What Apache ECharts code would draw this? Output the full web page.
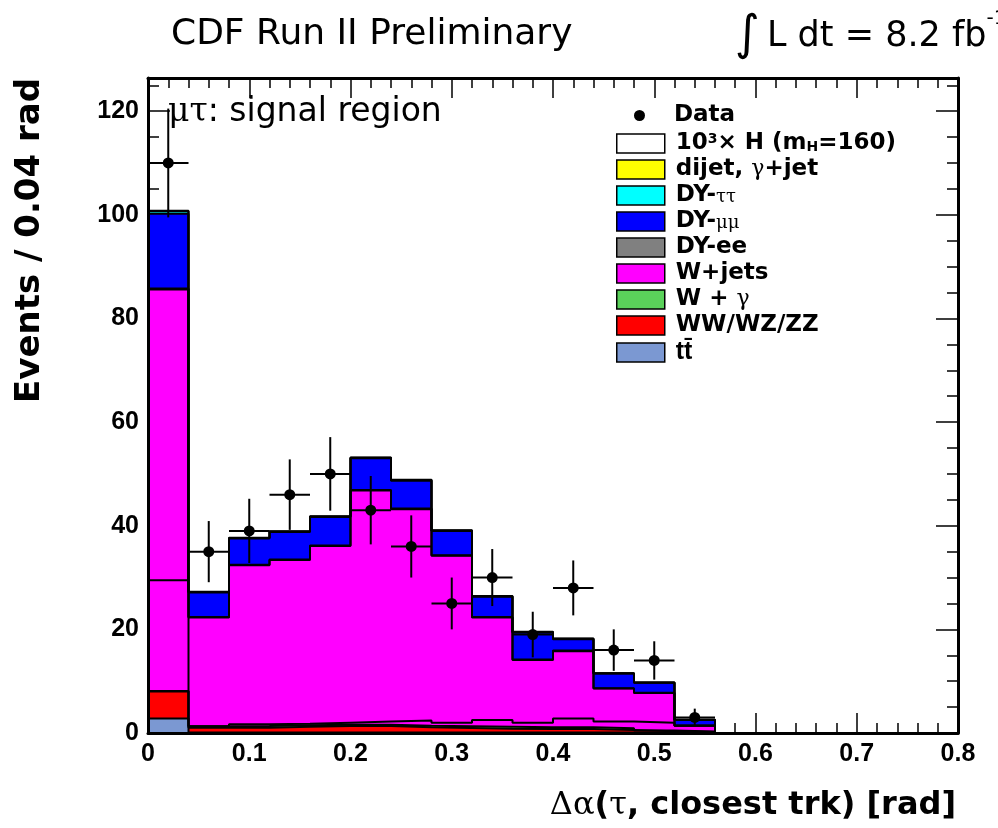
<!DOCTYPE html>
<html>
<head>
<meta charset="utf-8">
<script src="https://cdn.jsdelivr.net/npm/echarts@6/dist/echarts.min.js"></script>
<style>
  html, body { margin: 0; padding: 0; background: #fff; }
  #chart { width: 998px; height: 828px; }
</style>
</head>
<body>
<div id="chart"></div>
<script>
// Bin edges of the Δα(τ, closest trk) histogram, 0.04 rad per bin
const binEdges = [0, 0.04, 0.08, 0.12, 0.16, 0.20, 0.24, 0.28, 0.32, 0.36, 0.40, 0.44, 0.48, 0.52, 0.56];
const binWidth = 0.04;

// Observed events and their uncertainties
const dataCounts = [110, 35, 39, 46, 50, 43, 36, 25, 30, 19, 28, 16, 14, 3];
const dataErrors = [10.5, 5.9, 6.2, 6.8, 7.1, 6.6, 6.0, 5.0, 5.5, 4.4, 5.3, 4.0, 3.7, 1.7];

// Background expectations, listed from the bottom of the stack upwards
const ttbar    = [2.8, 0.1, 0.1, 0.1, 0.1, 0.1, 0.1, 0.1, 0.1, 0.1, 0.1, 0.1, 0.1, 0.05];
const diboson  = [5.2, 0.9, 0.9, 1.1, 1.25, 1.25, 1.0, 0.85, 0.7, 0.65, 0.65, 0.5, 0.25, 0.15];
const wGamma   = [0.1, 0.3, 0.35, 0.3, 0.25, 0.25, 0.3, 0.35, 0.4, 0.35, 0.35, 0.3, 0.15, 0.1];
const wJets    = [77.5, 21.0, 31.0, 31.9, 34.5, 45.2, 41.8, 32.9, 21.1, 13.0, 14.7, 7.7, 7.2, 1.1];
const dyEE     = [0.2, 0.1, 0.1, 0.1, 0.1, 0.1, 0.1, 0.1, 0.1, 0.1, 0.1, 0.05, 0.05, 0.05];
const dyMuMu   = [14.4, 4.7, 5.1, 5.3, 5.5, 6.1, 5.4, 4.7, 3.9, 5.2, 2.2, 2.85, 1.95, 1.05];
const dyTauTau = [0.5, 0.1, 0.1, 0.1, 0.1, 0.1, 0.1, 0.1, 0.1, 0.1, 0.1, 0.05, 0.05, 0.05];
const dijet    = [0.1, 0.05, 0.05, 0.05, 0.05, 0.05, 0.05, 0.05, 0.05, 0.05, 0.05, 0.0, 0.0, 0.0];

// Higgs signal (m_H = 160), scaled by 10^3
const higgsX1000 = [29.5, 1.3, 1.7, 1.8, 2.0, 2.2, 2.4, 2.0, 2.5, 2.0, 2.8, 2.2, 2.0, 1.4];

// Axis ranges and tick spacing
const xRange = [0, 0.8];
const xMajorStep = 0.1;
const yRange = [0, 126.4];
const yMajorStep = 20;
const yMinorStep = 5;

// Stack components, bottom to top
const stackNames = ['ttbar', 'diboson', 'wgamma', 'wjets', 'dyee', 'dymumu', 'dytautau', 'dijet'];
const stackValues = [ttbar, diboson, wGamma, wJets, dyEE, dyMuMu, dyTauTau, dijet];
const stackColors = {
  ttbar: '#7b98d2', diboson: '#ff0000', wgamma: '#5ad25a', wjets: '#ff00ff',
  dyee: '#808080', dymumu: '#0000ff', dytautau: '#00ffff', dijet: '#ffff00'
};

const legendText = {
  higgs: '10{sup|3}\u00d7 H (m{sub|H}=160)',
  dijet: 'dijet, {g|\u03b3}+jet',
  dytautau: 'DY-{gs|\u03c4\u03c4}',
  dymumu: 'DY-{gs|\u03bc\u03bc}',
  dyee: 'DY-ee',
  wjets: 'W+jets',
  wgamma: 'W + {g|\u03b3}',
  diboson: 'WW/WZ/ZZ',
  ttbar: '{tb|tt\u0304}',
  Data: 'Data'
};

const nBins = dataCounts.length;

// Running sums give the top edge of each stacked layer
const cumulative = [];
let running = new Array(nBins).fill(0);
stackValues.forEach(function (vals) {
  running = running.map(function (v, i) { return v + vals[i]; });
  cumulative.push(running.slice());
});

// Histogram outline as step points: one point per bin plus the closing edge
function stepPoints(vals) {
  const pts = vals.map(function (v, i) { return [binEdges[i], v]; });
  pts.push([binEdges[nBins], vals[nBins - 1]]);
  pts.push([binEdges[nBins], 0]);
  return pts;
}

const FONT = '"Liberation Sans", Arial, Helvetica, sans-serif';
const WIDE = '"DejaVu Sans", Verdana, sans-serif';
const SERIF = '"DejaVu Serif", "Liberation Serif", serif';

const series = [];
// Draw the tallest cumulative layer first so lower layers paint over it
for (let k = stackNames.length - 1; k >= 0; k--) {
  const name = stackNames[k];
  series.push({
    type: 'line',
    name: name,
    data: stepPoints(cumulative[k]),
    step: 'end',
    symbol: 'none',
    silent: true,
    z: 2,
    itemStyle: { color: stackColors[name] },
    lineStyle: { color: '#000', width: 2 },
    areaStyle: { color: stackColors[name], opacity: 1 }
  });
}

series.push({
  type: 'line',
  name: 'higgs',
  data: stepPoints(higgsX1000),
  step: 'end',
  symbol: 'none',
  silent: true,
  z: 3,
  itemStyle: { color: '#ffffff' },
  lineStyle: { color: '#000', width: 2 }
});

series.push({
  type: 'custom',
  name: 'Data',
  z: 5,
  silent: true,
  itemStyle: { color: '#000' },
  data: dataCounts.map(function (v, i) { return [binEdges[i] + binWidth / 2, v, dataErrors[i]]; }),
  renderItem: function (params, api) {
    const x = api.value(0), y = api.value(1), e = api.value(2);
    const c = api.coord([x, y]);
    const lo = api.coord([x, y - e]);
    const hi = api.coord([x, y + e]);
    const l = api.coord([x - binWidth / 2, y]);
    const r = api.coord([x + binWidth / 2, y]);
    return {
      type: 'group',
      children: [
        { type: 'line', shape: { x1: lo[0], y1: lo[1], x2: hi[0], y2: hi[1] }, style: { stroke: '#000', lineWidth: 2 } },
        { type: 'line', shape: { x1: l[0], y1: l[1], x2: r[0], y2: r[1] }, style: { stroke: '#000', lineWidth: 2 } },
        { type: 'circle', shape: { cx: c[0], cy: c[1], r: 5.5 }, style: { fill: '#000' } }
      ]
    };
  }
});

const legendRich = {
  sup: { fontSize: 14, fontWeight: 'bold', fontFamily: WIDE, color: '#000', verticalAlign: 'top', lineHeight: 22 },
  sub: { fontSize: 14, fontWeight: 'bold', fontFamily: WIDE, color: '#000', verticalAlign: 'bottom', lineHeight: 22 },
  g:   { fontSize: 22, fontWeight: 'normal', fontFamily: SERIF, color: '#000', lineHeight: 22 },
  gs:  { fontSize: 18, fontWeight: 'normal', fontFamily: SERIF, color: '#000', lineHeight: 22, verticalAlign: 'bottom' },
  tb:  { fontSize: 25, fontWeight: 'bold', fontFamily: FONT, color: '#000', lineHeight: 22 }
};
function legendTextStyle(padLeft) {
  return {
    fontSize: 23, fontWeight: 'bold', fontFamily: WIDE, color: '#000', lineHeight: 22,
    padding: [0, 0, 0, padLeft], rich: legendRich
  };
}

const legendOrder = ['higgs', 'dijet', 'dytautau', 'dymumu', 'dyee', 'wjets', 'wgamma', 'diboson', 'ttbar'];

function tickAxis(dim, position, interval, range, major, minorCount, withLabels) {
  const ax = {
    type: 'value', position: position, min: range[0], max: range[1], interval: interval, z: 1,
    axisLine: { show: false, onZero: false },
    axisTick: { show: true, inside: true, length: major, lineStyle: { color: '#000', width: 1.5 } },
    splitLine: { show: false },
    axisLabel: { show: false }
  };
  if (minorCount) {
    ax.minorTick = { show: true, splitNumber: minorCount, length: major / 2, lineStyle: { color: '#000', width: 1.5 } };
  }
  if (withLabels) {
    ax.axisLabel = { show: true, color: '#000', fontSize: 25, fontWeight: 'bold', fontFamily: FONT, margin: 9, showMaxLabel: dim === 'x' };
  }
  return ax;
}
function frameAxis(position, range) {
  return {
    type: 'value', position: position, min: range[0], max: range[1], z: 10,
    axisLine: { show: true, onZero: false, lineStyle: { color: '#000', width: 3 } },
    axisTick: { show: false }, axisLabel: { show: false }, splitLine: { show: false }
  };
}

const option = {
  animation: false,
  backgroundColor: '#fff',
  grid: { left: 148, right: 40, top: 78, bottom: 95, containLabel: false },
  title: [
    { text: 'CDF Run II Preliminary', left: 166, top: 12,
      textStyle: { fontFamily: WIDE, fontWeight: 'normal', fontSize: 36, color: '#000' } },
    { text: '{i|\u222b}{t|\u2009L dt = 8.2 fb}{s|-1}', left: 730, top: 4,
      textStyle: { fontFamily: WIDE, fontWeight: 'normal', fontSize: 35, color: '#000', lineHeight: 56,
        rich: {
          i: { fontFamily: WIDE, fontSize: 48, fontWeight: 'normal', color: '#000', lineHeight: 56 },
          t: { fontFamily: WIDE, fontSize: 35, fontWeight: 'normal', color: '#000', lineHeight: 56 },
          s: { fontFamily: WIDE, fontSize: 20, color: '#000', verticalAlign: 'top', lineHeight: 40 }
        } } },
    { text: '{g|\u03bc\u03c4}: signal region', left: 163, top: 91,
      textStyle: { fontFamily: WIDE, fontWeight: 'normal', fontSize: 33, color: '#000',
        rich: { g: { fontFamily: SERIF, fontSize: 33, color: '#000' } } } }
  ],
  legend: [
    { data: [{ name: 'Data', icon: 'circle', itemStyle: { color: '#000', borderWidth: 0 } }],
      orient: 'vertical', left: 634, top: 104, padding: 0, itemWidth: 11, itemHeight: 11,
      selectedMode: false, textStyle: legendTextStyle(24),
      formatter: function (n) { return legendText[n]; } },
    { data: legendOrder.map(function (n) {
        return { name: n, icon: 'rect',
          itemStyle: { color: n === 'higgs' ? '#ffffff' : stackColors[n], borderColor: '#000', borderWidth: 1.5 } };
      }),
      orient: 'vertical', left: 616, top: 132, padding: 0, itemWidth: 48, itemHeight: 19, itemGap: 3,
      selectedMode: false, textStyle: legendTextStyle(6),
      formatter: function (n) { return legendText[n]; } }
  ],
  xAxis: [
    tickAxis('x', 'bottom', xMajorStep, xRange, 20, 5, true),
    tickAxis('x', 'top', xMajorStep, xRange, 20, 5, false),
    frameAxis('bottom', xRange),
    frameAxis('top', xRange)
  ],
  yAxis: [
    tickAxis('y', 'left', yMajorStep, yRange, 22, 0, true),
    tickAxis('y', 'left', yMinorStep, yRange, 11, 0, false),
    tickAxis('y', 'right', yMajorStep, yRange, 22, 0, false),
    tickAxis('y', 'right', yMinorStep, yRange, 11, 0, false),
    frameAxis('left', yRange),
    frameAxis('right', yRange)
  ],
  graphic: [
    { type: 'text', x: 30, y: 78, rotation: Math.PI / 2, z: 20,
      style: { text: 'Events / 0.04 rad', fill: '#000', fontFamily: WIDE, fontWeight: 'bold', fontSize: 34,
               align: 'right', verticalAlign: 'middle' } },
    { type: 'text', x: 956, y: 806, z: 20,
      style: { text: '{g|\u0394\u03b1}({g|\u03c4}, closest trk) [rad]', fill: '#000', fontFamily: WIDE, fontWeight: 'bold', fontSize: 32,
               align: 'right', verticalAlign: 'middle',
               rich: { g: { fontFamily: SERIF, fontWeight: 'normal', fontSize: 32, fill: '#000' } } } }
  ],
  series: series
};

const chart = echarts.init(document.getElementById('chart'), null, { renderer: 'canvas' });
chart.setOption(option);
</script>
</body>
</html>
